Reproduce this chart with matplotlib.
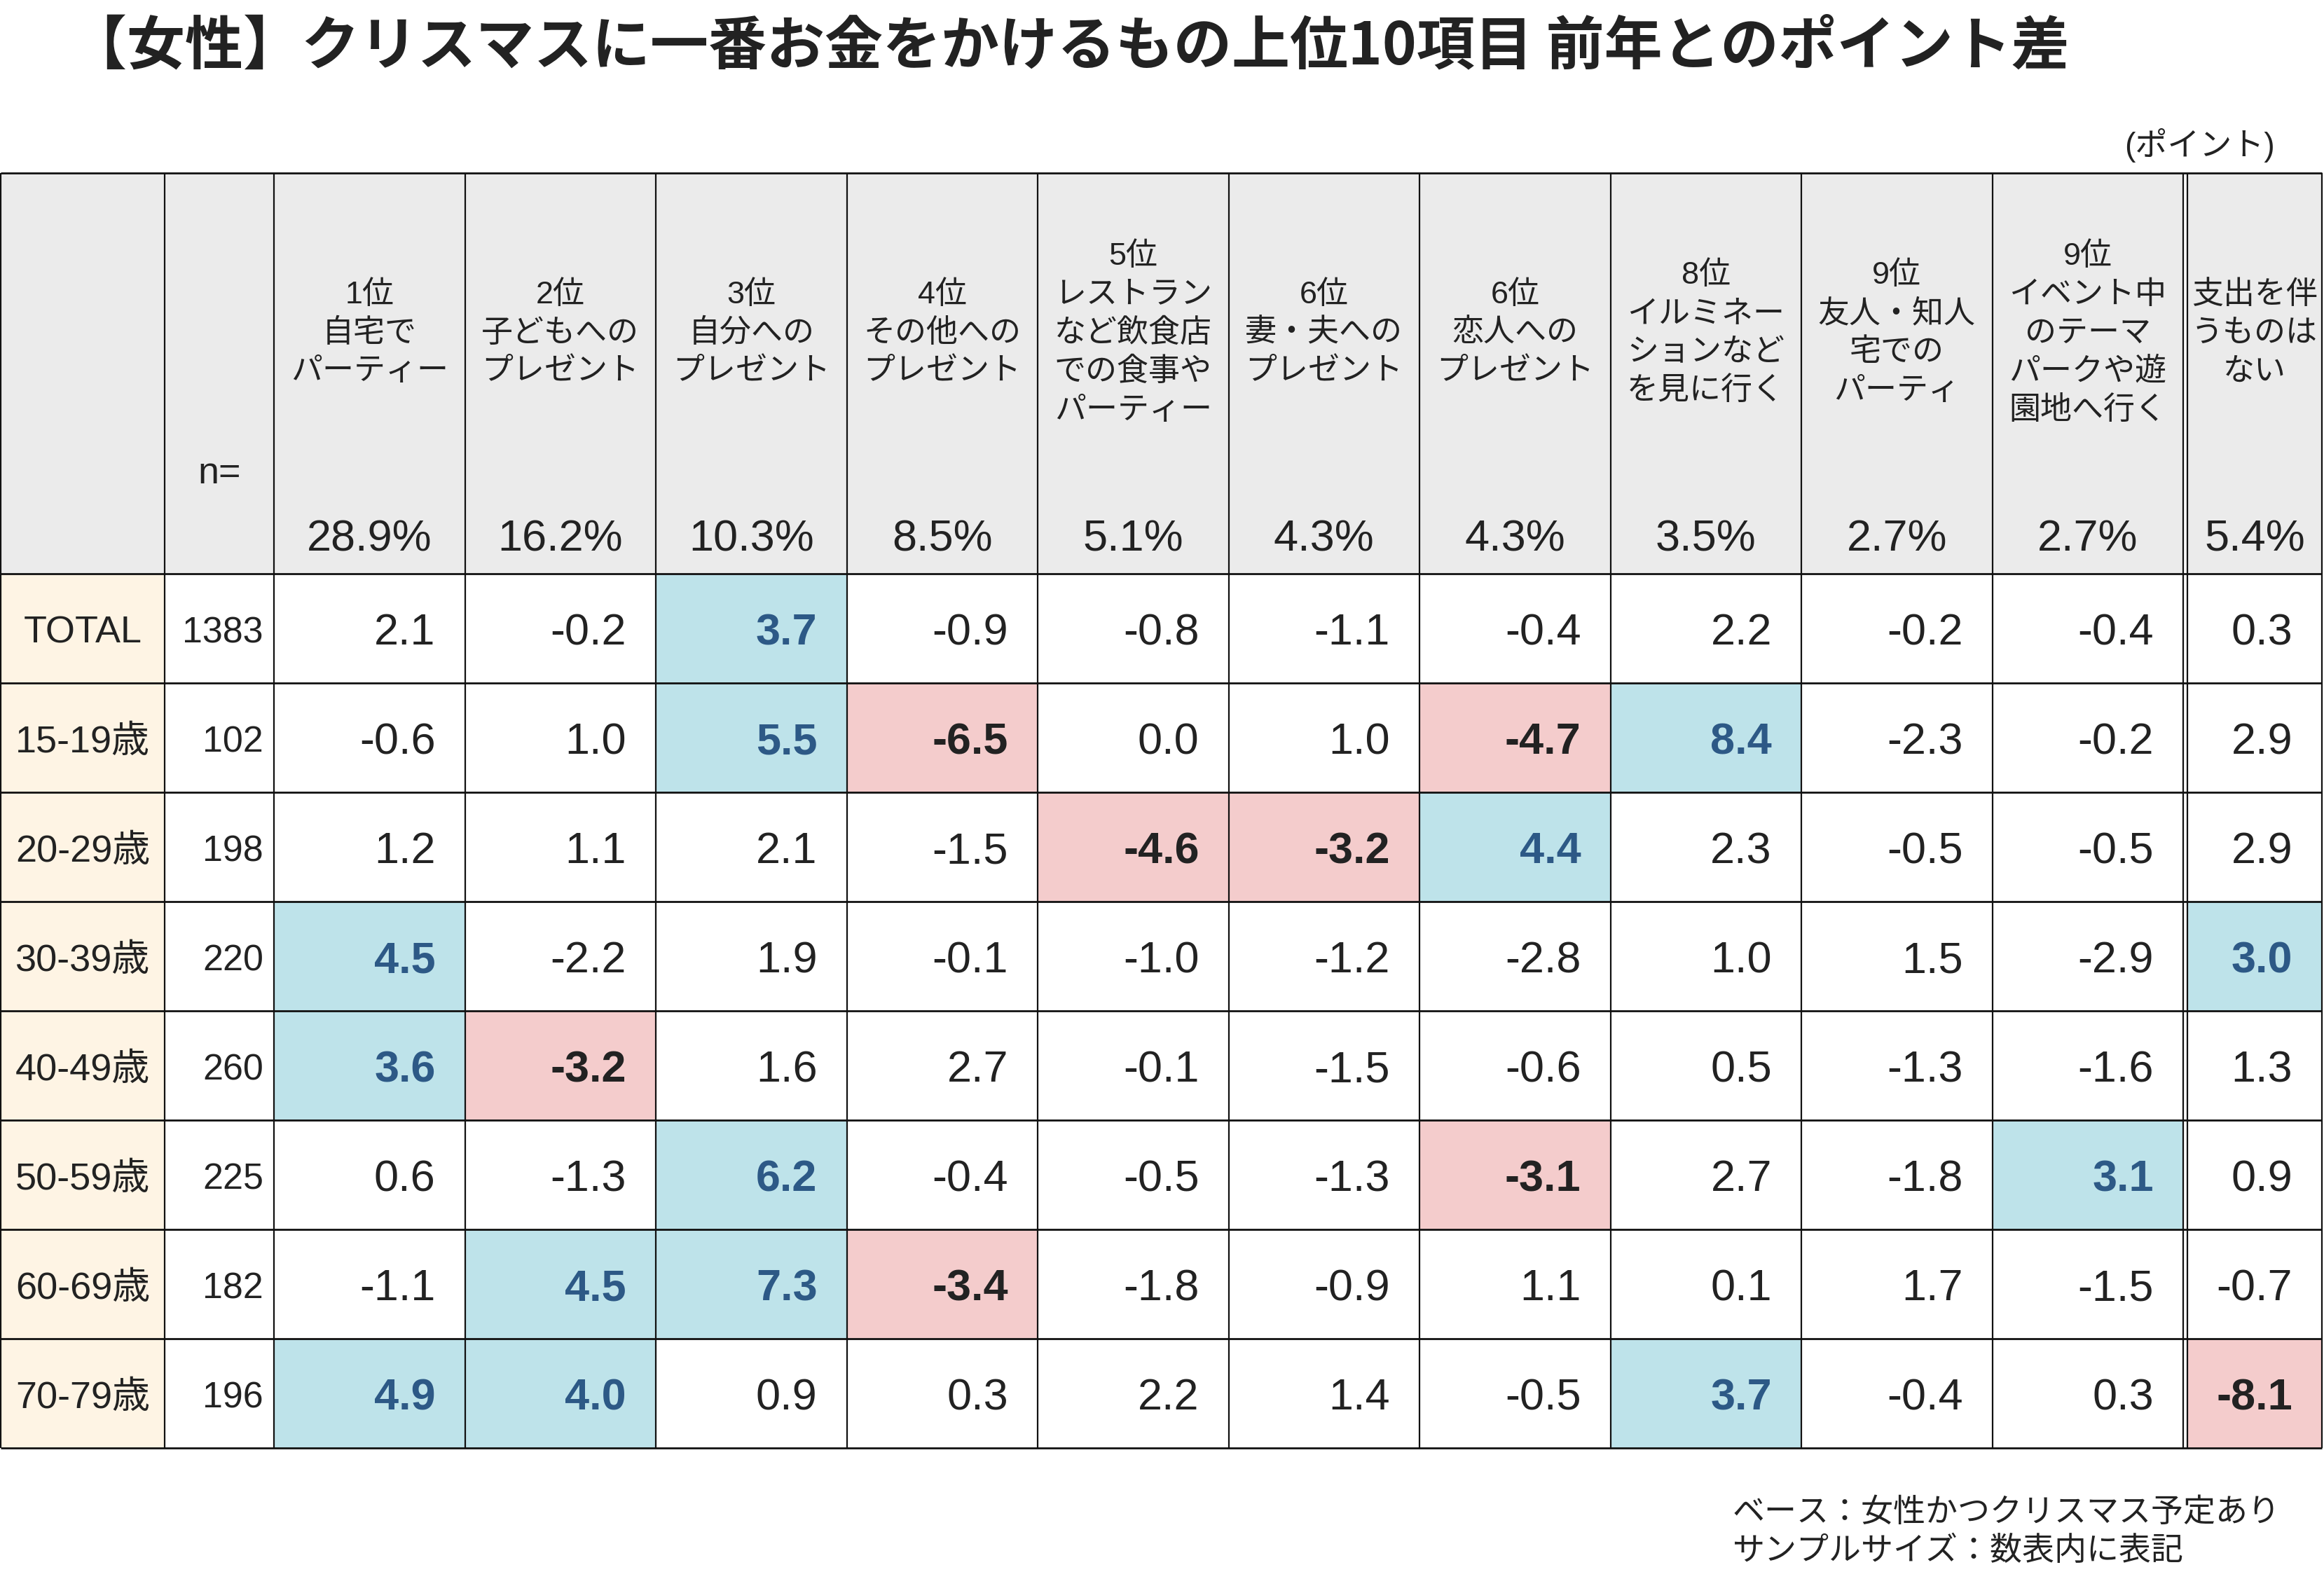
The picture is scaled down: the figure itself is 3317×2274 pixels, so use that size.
import matplotlib.pyplot as plt
from matplotlib.patches import Rectangle

W, H = 3317, 2274

title = "【女性】クリスマスに一番お金をかけるもの上位10項目 前年とのポイント差"
unit_label = "(ポイント)"
notes = ["ベース：女性かつクリスマス予定あり", "サンプルサイズ：数表内に表記"]

item_labels = [
    "1位\n自宅で\nパーティー",
    "2位\n子どもへの\nプレゼント",
    "3位\n自分への\nプレゼント",
    "4位\nその他への\nプレゼント",
    "5位\nレストラン\nなど飲食店\nでの食事や\nパーティー",
    "6位\n妻・夫への\nプレゼント",
    "6位\n恋人への\nプレゼント",
    "8位\nイルミネー\nションなど\nを見に行く",
    "9位\n友人・知人\n宅での\nパーティ",
    "9位\nイベント中\nのテーマ\nパークや遊\n園地へ行く",
    "支出を伴\nうものは\nない",
]
item_pct = [28.9, 16.2, 10.3, 8.5, 5.1, 4.3, 4.3, 3.5, 2.7, 2.7, 5.4]

row_labels = ["TOTAL", "15-19歳", "20-29歳", "30-39歳", "40-49歳",
              "50-59歳", "60-69歳", "70-79歳"]
row_n = [1383, 102, 198, 220, 260, 225, 182, 196]

diff_total = [2.1, -0.2, 3.7, -0.9, -0.8, -1.1, -0.4, 2.2, -0.2, -0.4, 0.3]
diff_15_19 = [-0.6, 1.0, 5.5, -6.5, 0.0, 1.0, -4.7, 8.4, -2.3, -0.2, 2.9]
diff_20_29 = [1.2, 1.1, 2.1, -1.5, -4.6, -3.2, 4.4, 2.3, -0.5, -0.5, 2.9]
diff_30_39 = [4.5, -2.2, 1.9, -0.1, -1.0, -1.2, -2.8, 1.0, 1.5, -2.9, 3.0]
diff_40_49 = [3.6, -3.2, 1.6, 2.7, -0.1, -1.5, -0.6, 0.5, -1.3, -1.6, 1.3]
diff_50_59 = [0.6, -1.3, 6.2, -0.4, -0.5, -1.3, -3.1, 2.7, -1.8, 3.1, 0.9]
diff_60_69 = [-1.1, 4.5, 7.3, -3.4, -1.8, -0.9, 1.1, 0.1, 1.7, -1.5, -0.7]
diff_70_79 = [4.9, 4.0, 0.9, 0.3, 2.2, 1.4, -0.5, 3.7, -0.4, 0.3, -8.1]
rows = [diff_total, diff_15_19, diff_20_29, diff_30_39,
        diff_40_49, diff_50_59, diff_60_69, diff_70_79]

# highlight rule used in the table: +/-3.0 points or more
LIMIT = 3.0

TXT = "#222222"
GRAY = "#ebebeb"
CREAM = "#fef4e4"
BLUE_BG = "#bee3ea"
BLUE_TXT = "#2d5986"
PINK_BG = "#f4cccc"
LINE = "#111111"
FAM = ["Liberation Sans", "Noto Sans CJK JP"]


def pt(px):
    return px * 0.72


# layout in pixels
top, head_bot, row_h = 247, 819, 156
lab_x0, lab_x1, n_x1 = 1, 235, 391
col_w = 272.5
sep_a, sep_b, right = 3116, 3122, 3314
dy = 7  # small nudge so latin digits sit centred like the original

col_left = [n_x1 + i * col_w for i in range(10)] + [sep_b]
col_right = [n_x1 + (i + 1) * col_w for i in range(10)] + [right]
bottom = head_bot + row_h * len(rows)

fig = plt.figure(figsize=(W / 100, H / 100), dpi=100)
ax = fig.add_axes([0, 0, 1, 1])
ax.set_xlim(0, W)
ax.set_ylim(H, 0)
ax.axis("off")

ax.text(98, 67, title, fontsize=pt(83), fontweight="bold", color=TXT,
        family=["Noto Sans CJK JP"], ha="left", va="center")
ax.text(3247, 207, unit_label, fontsize=pt(46), color=TXT, family=FAM,
        ha="right", va="center")

# header background
ax.add_patch(Rectangle((lab_x0, top), right - lab_x0, head_bot - top,
                       facecolor=GRAY, edgecolor="none"))
ax.add_patch(Rectangle((sep_a, top), sep_b - sep_a, bottom - top,
                       facecolor="white", edgecolor="none"))

ax.text((lab_x1 + n_x1) / 2, 676, "n=", fontsize=pt(54), color=TXT,
        family=FAM, ha="center", va="center")

for j, (lab, pct) in enumerate(zip(item_labels, item_pct)):
    cx = (col_left[j] + col_right[j]) / 2
    lines = lab.split("\n")
    for k, line in enumerate(lines):
        y = 476 + (k - (len(lines) - 1) / 2) * 55
        ax.text(cx, y, line, fontsize=pt(45), color=TXT, family=FAM,
                ha="center", va="center")
    ax.text(cx, 763 + dy, f"{pct:.1f}%", fontsize=pt(63), color=TXT,
            family=FAM, ha="center", va="center")

# body
for i, (lab, n, vals) in enumerate(zip(row_labels, row_n, rows)):
    y0 = head_bot + i * row_h
    cy = y0 + row_h / 2 + dy
    ax.add_patch(Rectangle((lab_x0, y0), lab_x1 - lab_x0, row_h,
                           facecolor=CREAM, edgecolor="none"))
    ax.text((lab_x0 + lab_x1) / 2, cy, lab, fontsize=pt(54), color=TXT,
            family=FAM, ha="center", va="center")
    ax.text(n_x1 - 15, cy, str(n), fontsize=pt(52), color=TXT,
            family=FAM, ha="right", va="center")
    for j, v in enumerate(vals):
        bg, fc, fw = "white", TXT, "normal"
        if v >= LIMIT:
            bg, fc, fw = BLUE_BG, BLUE_TXT, "bold"
        elif v <= -LIMIT:
            bg, fc, fw = PINK_BG, TXT, "bold"
        ax.add_patch(Rectangle((col_left[j], y0), col_right[j] - col_left[j],
                               row_h, facecolor=bg, edgecolor="none"))
        ax.text(col_right[j] - 42, cy, f"{v:.1f}", fontsize=pt(63), color=fc,
                fontweight=fw, family=FAM, ha="right", va="center")

# grid lines
ys = [top, head_bot] + [head_bot + row_h * (i + 1) for i in range(len(rows))]
ax.hlines(ys, lab_x0, right, colors=LINE, lw=2.0)
xs = [lab_x0, lab_x1, n_x1] + col_right[:10] + [sep_b, right]
xs[3 + 9] = sep_a
ax.vlines(xs, top, bottom, colors=LINE, lw=1.6)

for k, note in enumerate(notes):
    ax.text(2473, 2160 + k * 55, note, fontsize=pt(46), color=TXT,
            family=FAM, ha="left", va="center")

fig.savefig("out.png", dpi=100, facecolor="white")
